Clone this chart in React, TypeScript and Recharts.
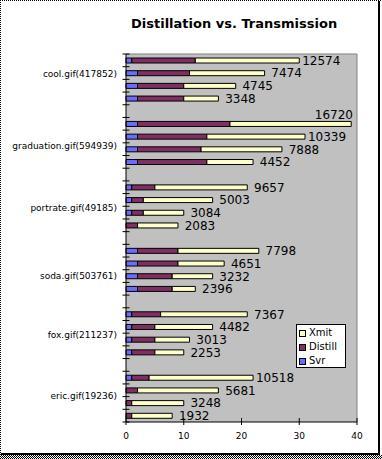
import React from 'react';
import { BarChart, Bar, XAxis, YAxis, CartesianGrid, LabelList, Legend } from 'recharts';

// ---- data ----
const FILES = [
  'cool.gif(417852)',
  'graduation.gif(594939)',
  'portrate.gif(49185)',
  'soda.gif(503761)',
  'fox.gif(211237)',
  'eric.gif(19236)',
];
const SIZES = [
  [12574, 7474, 4745, 3348],
  [16720, 10339, 7888, 4452],
  [9657, 5003, 3084, 2083],
  [7798, 4651, 3232, 2396],
  [7367, 4482, 3013, 2253],
  [10518, 5681, 3248, 1932],
];
const SVR = [
  [1, 2, 2, 2],
  [2, 2, 2, 2],
  [1, 1, 1, 0],
  [2, 2, 2, 2],
  [1, 1, 1, 1],
  [1, 0, 0, 0],
];
const DISTILL = [
  [11, 9, 8, 8],
  [16, 12, 11, 12],
  [4, 2, 2, 2],
  [7, 7, 6, 6],
  [5, 4, 4, 4],
  [3, 2, 1, 1],
];
const XMIT = [
  [18, 13, 9, 6],
  [21, 17, 14, 8],
  [16, 12, 7, 7],
  [14, 8, 7, 4],
  [15, 10, 6, 5],
  [18, 14, 9, 7],
];
// which bar of each group carries the group's axis label
const LABEL_AT = [1, 2, 2, 2, 2, 2];
const X_TICKS = [0, 10, 20, 30, 40];
const TITLE = 'Distillation vs. Transmission';

// ---- style / layout ----
const SERIES = [
  { key: 'svr', name: 'Svr', color: '#6b6bff' },
  { key: 'distill', name: 'Distill', color: '#7f2f62' },
  { key: 'xmit', name: 'Xmit', color: '#ffffcc' },
];
const LABEL_NUDGE = [1, -3, -5, 0, -5, -7];
const W = 382;
const H = 459;
const MARGIN = { top: 54, right: 25, bottom: 7, left: 0 };
const YAXIS_W = 126;
const XAXIS_H = 30;
const PLOT_H = H - MARGIN.top - MARGIN.bottom - XAXIS_H;
const PLOT_RIGHT = W - MARGIN.right;
const FONT = '"DejaVu Sans", Verdana, sans-serif';

type Row = {
  id: string;
  label: string;
  group: number;
  svr: number | null;
  distill: number | null;
  xmit: number | null;
  size: number | null;
};

const rows: Row[] = [];
FILES.forEach((f, g) => {
  if (g > 0) {
    rows.push({ id: `gap${g}`, label: '', group: g, svr: null, distill: null, xmit: null, size: null });
  }
  for (let i = 0; i < 4; i++) {
    rows.push({
      id: `${f}#${i}`,
      label: i === LABEL_AT[g] ? f : '',
      group: g,
      svr: SVR[g][i],
      distill: DISTILL[g][i],
      xmit: XMIT[g][i],
      size: SIZES[g][i],
    });
  }
});
const BAND = PLOT_H / rows.length;

const YTick = (props: any) => {
  const { x, y, index } = props;
  const row = rows[index];
  const top = y - BAND / 2;
  const bottom = y + BAND / 2;
  return (
    <g>
      <line x1={x - 3.5} x2={x + 3.5} y1={top} y2={top} stroke="#000" strokeWidth={1} />
      {index === rows.length - 1 && (
        <line x1={x - 3.5} x2={x + 3.5} y1={bottom} y2={bottom} stroke="#000" strokeWidth={1} />
      )}
      {row && row.label ? (
        <text
          x={x - 9}
          y={y + 3.2 + LABEL_NUDGE[row.group]}
          textAnchor="end"
          fontSize={9}
          fill="#000"
          fontFamily={FONT}
        >
          {row.label}
        </text>
      ) : null}
    </g>
  );
};

const XTick = (props: any) => {
  const { x, y, payload } = props;
  return (
    <g>
      <line x1={x} x2={x} y1={y - 4} y2={y + 3} stroke="#000" strokeWidth={1} />
      <text x={x} y={y + 16.5} textAnchor="middle" fontSize={9} fill="#000" fontFamily={FONT}>
        {payload.value}
      </text>
    </g>
  );
};

const ValueLabel = (props: any) => {
  const { value } = props;
  if (value == null) return null;
  const vb = props.viewBox || props;
  const { x, y, width, height } = vb;
  const end = x + width;
  const txt = String(value);
  const approxW = txt.length * 7.6;
  const cy = y + height / 2;
  let cx = end + 22;
  if (cx + approxW / 2 > PLOT_RIGHT) {
    return (
      <text x={PLOT_RIGHT - 4} y={cy - 9.3 + 4.3} textAnchor="end" fontSize={12} fill="#000" fontFamily={FONT}>
        {txt}
      </text>
    );
  }
  return (
    <text x={cx} y={cy + 4.3} textAnchor="middle" fontSize={12} fill="#000" fontFamily={FONT}>
      {txt}
    </text>
  );
};

const LegendBox = () => (
  <div
    style={{
      width: 48,
      height: 41,
      border: '1px solid #000',
      background: '#fff',
      fontFamily: FONT,
      fontSize: 10,
      lineHeight: '14px',
      paddingTop: 1,
      boxSizing: 'content-box',
    }}
  >
    {[...SERIES].reverse().map((s) => (
      <div key={s.key} style={{ display: 'flex', alignItems: 'center', height: 14, paddingLeft: 2 }}>
        <span
          style={{
            display: 'inline-block',
            width: 5,
            height: 5,
            border: '1px solid #000',
            background: s.color,
            marginRight: 3,
          }}
        />
        <span style={{ color: '#000' }}>{s.name}</span>
      </div>
    ))}
  </div>
);

export default function App() {
  return (
    <div
      style={{
        position: 'relative',
        width: W,
        height: H,
        background: '#fff',
        fontFamily: FONT,
        overflow: 'hidden',
      }}
    >
      <style>{'body{margin:0}'}</style>
      <div
        style={{
          position: 'absolute',
          left: 131,
          top: 15,
          fontSize: 13,
          fontWeight: 'bold',
          lineHeight: '18px',
          whiteSpace: 'nowrap',
          color: '#000',
          fontFamily: FONT,
        }}
      >
        {TITLE}
      </div>
      <BarChart
        width={W}
        height={H}
        data={rows}
        layout="vertical"
        margin={MARGIN}
        barSize={5}
      >
        <CartesianGrid
          fill="#c0c0c0"
          stroke="#808080"
          horizontalCoordinatesGenerator={({ offset }: any) => [offset.top]}
          verticalCoordinatesGenerator={({ offset }: any) => [offset.left + offset.width]}
        />
        <XAxis
          type="number"
          domain={[0, 40]}
          ticks={X_TICKS}
          height={XAXIS_H}
          tickSize={0}
          tickMargin={0}
          tickLine={false}
          axisLine={{ stroke: '#000' }}
          tick={<XTick />}
          interval={0}
        />
        <YAxis
          type="category"
          dataKey="id"
          width={YAXIS_W}
          tickSize={0}
          tickMargin={0}
          tickLine={false}
          axisLine={{ stroke: '#000' }}
          tick={<YTick />}
          interval={0}
        />
        <Legend
          layout="vertical"
          align="center"
          verticalAlign="middle"
          content={<LegendBox />}
          wrapperStyle={{ position: 'absolute', left: 296, top: 324, width: 52, height: 45 }}
        />
        {SERIES.map((s) => (
          <Bar
            key={s.key}
            dataKey={s.key}
            name={s.name}
            stackId="a"
            fill={s.color}
            stroke="#000"
            strokeWidth={1}
            isAnimationActive={false}
          >
            {s.key === 'xmit' ? <LabelList dataKey="size" content={<ValueLabel />} /> : null}
          </Bar>
        ))}
      </BarChart>
      {/* frame */}
      <div style={{ position: 'absolute', left: 378, top: 0, width: 2, height: 455, background: '#000' }} />
      <div style={{ position: 'absolute', left: 0, top: 453, width: 380, height: 2, background: '#000' }} />
      <div
        style={{
          position: 'absolute',
          left: 0,
          top: 455,
          width: W,
          height: 4,
          background: 'repeating-conic-gradient(#000 0 25%, #fff 0 50%) 0 0/2px 2px',
        }}
      />
      <div
        style={{
          position: 'absolute',
          left: 0,
          top: 0,
          width: W,
          height: 1,
          background: 'repeating-linear-gradient(90deg, #000 0 1px, #fff 1px 2px)',
        }}
      />
      <div
        style={{
          position: 'absolute',
          left: 0,
          top: 0,
          width: 1,
          height: H,
          background: 'repeating-linear-gradient(0deg, #000 0 1px, #fff 1px 2px)',
        }}
      />
    </div>
  );
}
